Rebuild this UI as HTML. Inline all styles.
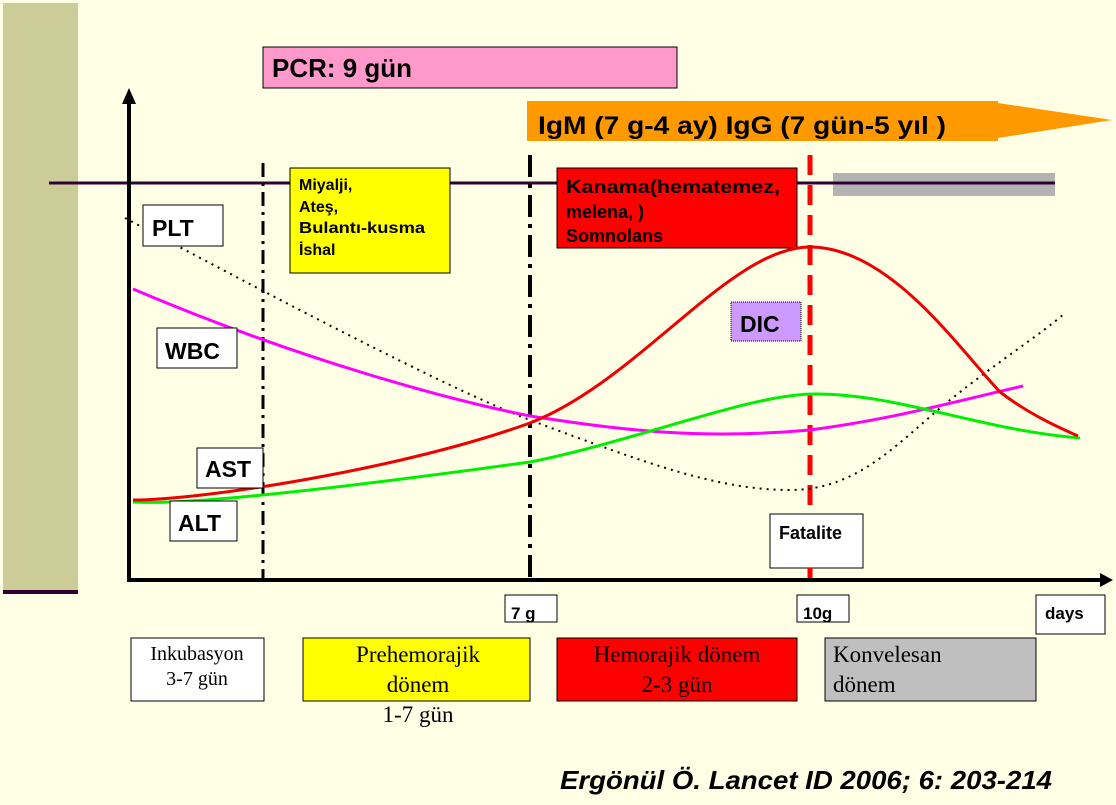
<!DOCTYPE html>
<html><head><meta charset="utf-8"><style>
html,body{margin:0;padding:0;background:#FFFFE6;}
svg{display:block;}
.b{font-family:"Liberation Sans",sans-serif;font-weight:bold;fill:#000;}
.s{font-family:"Liberation Serif",serif;}
</style></head><body>
<svg width="1116" height="805" viewBox="0 0 1116 805" xmlns="http://www.w3.org/2000/svg">
<rect x="0" y="0" width="1116" height="805" fill="#FFFFE6"/>
<rect x="3" y="3" width="75" height="587" fill="#CCCC99"/>
<rect x="3" y="590" width="75" height="4" fill="#330033"/>

<rect x="263" y="47" width="414" height="41" fill="#FF99CC" stroke="#000" stroke-width="1"/>
<text x="272" y="77" class="b" font-size="26" textLength="140" lengthAdjust="spacingAndGlyphs">PCR:  9 gün</text>

<polygon points="527,101 998,101 998,103 1112,120 998,138 998,141 527,141" fill="#FF9900"/>
<text x="538" y="134" class="b" font-size="25" textLength="408" lengthAdjust="spacingAndGlyphs">IgM (7 g-4 ay)  IgG (7 gün-5 yıl )</text>

<line x1="49" y1="183" x2="1055" y2="183" stroke="#330033" stroke-width="3"/>
<rect x="833" y="173" width="222" height="23" fill="#B3B3B3"/>
<line x1="833" y1="183" x2="1055" y2="183" stroke="#330033" stroke-width="3"/>

<line x1="263" y1="163" x2="263" y2="580" stroke="#000" stroke-width="3" stroke-dasharray="14,6,3,6"/>
<line x1="530" y1="155" x2="530" y2="580" stroke="#000" stroke-width="4" stroke-dasharray="22,7,4,7"/>
<line x1="810" y1="155" x2="810" y2="580" stroke="#FF0000" stroke-width="5" stroke-dasharray="20,10"/>

<rect x="290" y="168" width="160" height="105" fill="#FFFF00" stroke="#000"/>
<text class="b" font-size="16"><tspan x="299" y="190">Miyalji,</tspan><tspan x="299" y="212">Ateş,</tspan><tspan x="299" y="233" textLength="126" lengthAdjust="spacingAndGlyphs">Bulantı-kusma</tspan><tspan x="299" y="255">İshal</tspan></text>

<rect x="557" y="168" width="240" height="80" fill="#FF0000" stroke="#000"/>
<text class="b" font-size="18"><tspan x="566" y="193" textLength="214" lengthAdjust="spacingAndGlyphs">Kanama(hematemez,</tspan><tspan x="566" y="218">melena, )</tspan><tspan x="566" y="242">Somnolans</tspan></text>

<path d="M125,218 C260,290 450,390 530,420 C650,465 720,490 790,490 C860,490 900,440 950,400 C1000,360 1040,335 1065,313" fill="none" stroke="#000" stroke-width="2" stroke-dasharray="2,5"/>
<path d="M133,289 C300,360 450,400 530,416 C620,430 700,440 810,430 C900,418 960,400 1023,386" fill="none" stroke="#FF00FF" stroke-width="3"/>
<path d="M133,502 C200,506 400,480 530,462 C640,440 750,394 815,394 C900,394 980,430 1080,438" fill="none" stroke="#00EE00" stroke-width="3"/>
<path d="M133,500 C200,500 400,470 530,423 C640,380 730,247 810,247 C890,247 960,350 1000,392 C1030,415 1060,428 1078,436" fill="none" stroke="#EE0000" stroke-width="3"/>

<rect x="143" y="205" width="80" height="41" fill="#fff" stroke="#000"/>
<text x="152" y="236" class="b" font-size="23">PLT</text>
<rect x="157" y="328" width="80" height="40" fill="#fff" stroke="#000"/>
<text x="165" y="359" class="b" font-size="23">WBC</text>
<rect x="197" y="448" width="66" height="40" fill="#fff" stroke="#000"/>
<text x="205" y="477" class="b" font-size="23">AST</text>
<rect x="170" y="501" width="67" height="40" fill="#fff" stroke="#000"/>
<text x="178" y="531" class="b" font-size="23">ALT</text>

<rect x="731" y="302" width="70" height="39" fill="#CC99FF" stroke="#000" stroke-dasharray="1,1"/>
<text x="740" y="332" class="b" font-size="23">DIC</text>

<rect x="770" y="514" width="93" height="54" fill="#fff" stroke="#000"/>
<line x1="810" y1="568" x2="810" y2="580" stroke="#FF0000" stroke-width="5"/>
<text x="779" y="539" class="b" font-size="18">Fatalite</text>

<line x1="129" y1="98" x2="129" y2="582" stroke="#000" stroke-width="4"/>
<polygon points="122,104 129,88 136,104" fill="#000"/>
<line x1="127" y1="580" x2="1102" y2="580" stroke="#000" stroke-width="4"/>
<polygon points="1100,573 1113,580 1100,587" fill="#000"/>

<rect x="505" y="595" width="52" height="27" fill="#fff" stroke="#000"/>
<text x="511" y="619" class="b" font-size="17">7 g</text>
<rect x="797" y="595" width="52" height="27" fill="#fff" stroke="#000"/>
<text x="803" y="619" class="b" font-size="17">10g</text>
<rect x="1036" y="595" width="69" height="39" fill="#fff" stroke="#000"/>
<text x="1045" y="619" class="b" font-size="17">days</text>

<rect x="131" y="638" width="133" height="63" fill="#fff" stroke="#000"/>
<text class="s" font-size="20" text-anchor="middle"><tspan x="197" y="660">Inkubasyon</tspan><tspan x="197" y="685">3-7 gün</tspan></text>
<rect x="303" y="638" width="227" height="63" fill="#FFFF00" stroke="#000"/>
<text class="s" font-size="23" text-anchor="middle"><tspan x="418" y="662">Prehemorajik</tspan><tspan x="418" y="692">dönem</tspan><tspan x="418" y="722">1-7 gün</tspan></text>
<rect x="557" y="638" width="240" height="63" fill="#FF0000" stroke="#000"/>
<text class="s" font-size="23" text-anchor="middle"><tspan x="677" y="662">Hemorajik dönem</tspan><tspan x="677" y="692">2-3 gün</tspan></text>
<rect x="825" y="638" width="211" height="63" fill="#BFBFBF" stroke="#000"/>
<text class="s" font-size="23"><tspan x="833" y="662">Konvelesan</tspan><tspan x="833" y="692">dönem</tspan></text>

<text x="560" y="789" class="b" font-size="26" font-style="italic" textLength="492" lengthAdjust="spacingAndGlyphs">Ergönül Ö. Lancet ID 2006; 6: 203-214</text>
</svg>
</body></html>
